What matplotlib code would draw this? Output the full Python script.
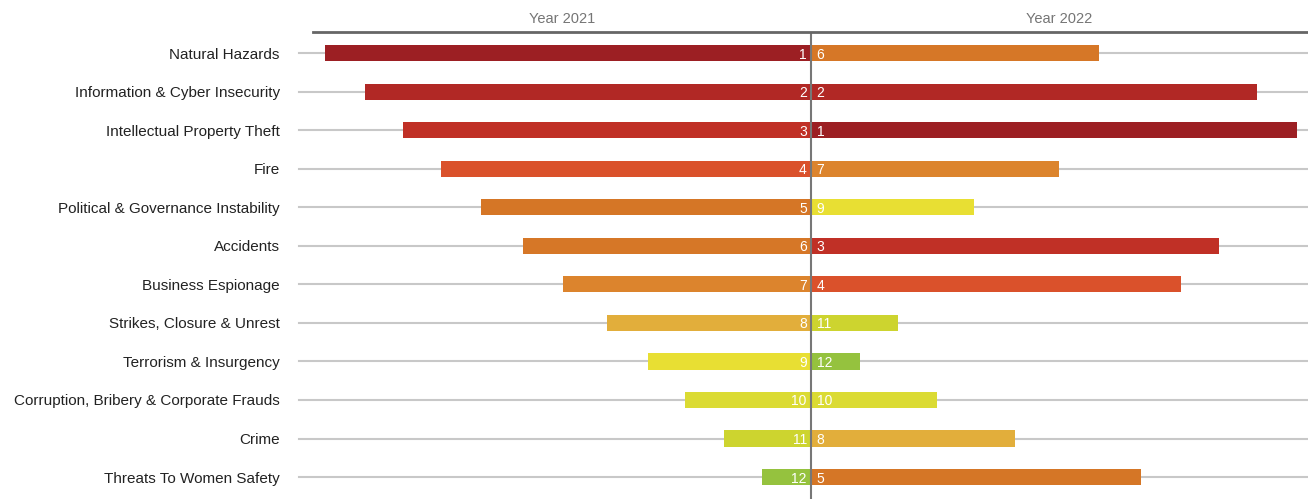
import matplotlib.pyplot as plt
import matplotlib.transforms as mtransforms

plt.rcParams["font.family"] = ["Liberation Sans", "DejaVu Sans"]

# risk categories with their rank in each year (1 = highest)
risks = [
    "Natural Hazards",
    "Information & Cyber Insecurity",
    "Intellectual Property Theft",
    "Fire",
    "Political & Governance Instability",
    "Accidents",
    "Business Espionage",
    "Strikes, Closure & Unrest",
    "Terrorism & Insurgency",
    "Corruption, Bribery & Corporate Frauds",
    "Crime",
    "Threats To Women Safety",
]
rank_2021 = [1, 2, 3, 4, 5, 6, 7, 8, 9, 10, 11, 12]
rank_2022 = [6, 2, 1, 7, 9, 3, 4, 11, 12, 10, 8, 5]

# bar length score and colour for each rank position
rank_score = [100, 91.8, 84, 76.2, 68, 59.3, 51, 42, 33.5, 26, 18, 10]
rank_color = ["#9c1f23", "#b12825", "#c03026", "#da512b", "#d57626", "#d67727",
              "#dc842d", "#e2ae3b", "#e8df33", "#dbdb33", "#cdd42f", "#95c23e"]

W, H = 1308, 499
fig = plt.figure(figsize=(W / 100, H / 100), dpi=100)
ax = fig.add_axes([313 / W, 0, 1 - 313 / W, 1 - 32 / H])

ys = list(range(len(risks)))
left_vals = [rank_score[r - 1] for r in rank_2021]
right_vals = [rank_score[r - 1] for r in rank_2022]
left_cols = [rank_color[r - 1] for r in rank_2021]
right_cols = [rank_color[r - 1] for r in rank_2022]

# horizontal grid lines reaching a bit past the plot's left edge
trans = ax.get_yaxis_transform()
for y in ys:
    ax.plot([-14 / 995, 1], [y, y], transform=trans, color="#c8c8c8",
            lw=1.5, zorder=0, clip_on=False)

ax.barh(ys, [-v for v in left_vals], height=0.42, color=left_cols, zorder=2)
ax.barh(ys, right_vals, height=0.42, color=right_cols, zorder=2)

for y, r in zip(ys, rank_2021):
    ax.annotate(str(r), (0, y), xytext=(-3, 0), textcoords="offset points",
                ha="right", va="center_baseline", color="white", fontsize=10, zorder=3)
for y, r in zip(ys, rank_2022):
    ax.annotate(str(r), (0, y), xytext=(4, 0), textcoords="offset points",
                ha="left", va="center_baseline", color="white", fontsize=10, zorder=3)

ax.axvline(0, color="#777777", lw=1.5, zorder=4)
ax.axhline(-0.55, color="#666666", lw=2, zorder=4, clip_on=False)

ax.set_xlim(-102.5, 102.3)
ax.set_ylim(11.57, -0.55)
ax.set_yticks(ys)
ax.set_yticklabels(risks, fontsize=11, color="#222222")
ax.tick_params(axis="y", length=0, pad=24)
ax.set_xticks([])
for s in ax.spines.values():
    s.set_visible(False)

for x, label in [(0.25, "Year 2021"), (0.75, "Year 2022")]:
    ax.text(x, 1.0, label, ha="center", va="bottom", fontsize=10.5, color="#757575",
            transform=ax.transAxes + mtransforms.ScaledTranslation(0, 4 / 72, fig.dpi_scale_trans))

fig.savefig("out.png", dpi=100)
